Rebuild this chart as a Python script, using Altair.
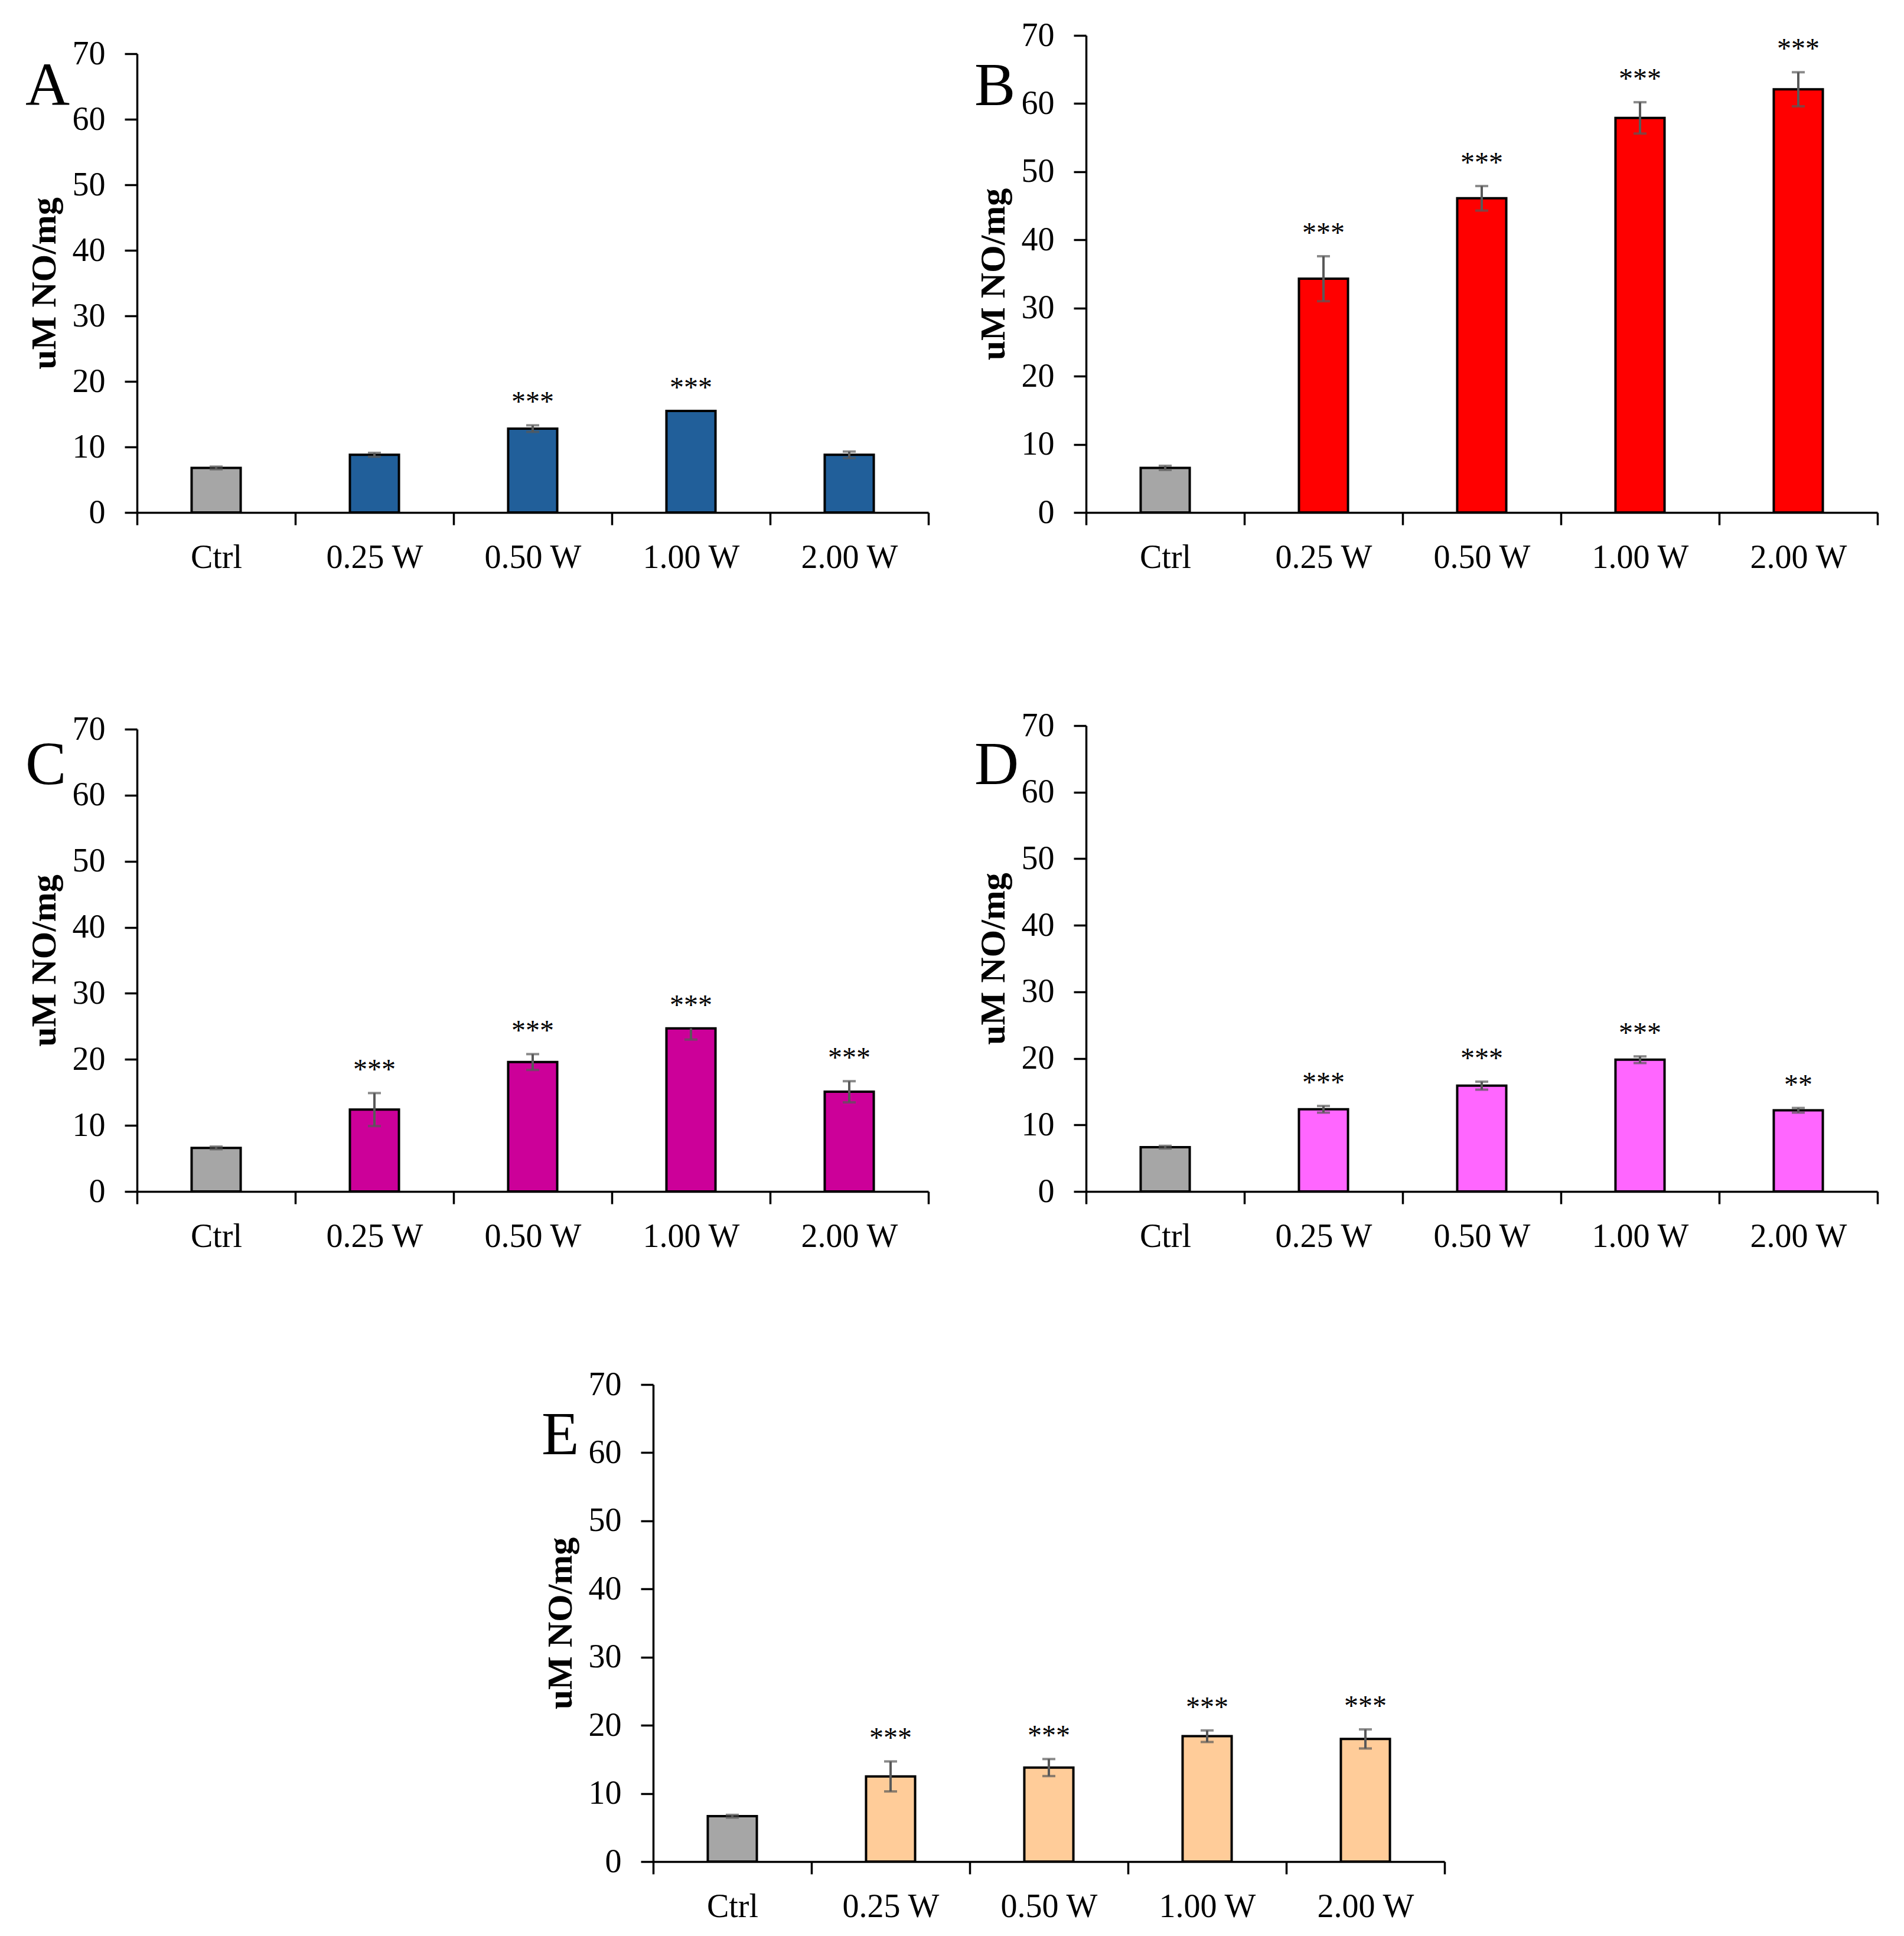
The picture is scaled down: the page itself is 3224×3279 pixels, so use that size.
import altair as alt
import pandas as pd

FONT = "Liberation Serif"
categories = ["Ctrl", "0.25 W", "0.50 W", "1.00 W", "2.00 W"]

# Panel A
a_values = [6.8, 8.8, 12.8, 15.5, 8.8]
a_err_hi = [0.2, 0.3, 0.5, 0.0, 0.5]
a_err_lo = [0.2, 0.3, 0.5, 0.0, 0.5]
a_stars = ["", "", "***", "***", ""]
# Panel B
b_values = [6.55, 34.3, 46.1, 57.9, 62.1]
b_err_hi = [0.3, 3.3, 1.8, 2.3, 2.5]
b_err_lo = [0.3, 3.3, 1.8, 2.3, 2.5]
b_stars = ["", "***", "***", "***", "***"]
# Panel C
c_values = [6.6, 12.4, 19.6, 24.7, 15.1]
c_err_hi = [0.2, 2.5, 1.2, 0.0, 1.6]
c_err_lo = [0.2, 2.5, 1.2, 1.7, 1.6]
c_stars = ["", "***", "***", "***", "***"]
# Panel D
d_values = [6.66, 12.35, 15.9, 19.8, 12.2]
d_err_hi = [0.2, 0.5, 0.6, 0.5, 0.35]
d_err_lo = [0.2, 0.5, 0.6, 0.5, 0.35]
d_stars = ["", "***", "***", "***", "**"]
# Panel E
e_values = [6.66, 12.5, 13.8, 18.4, 18.0]
e_err_hi = [0.2, 2.2, 1.25, 0.85, 1.4]
e_err_lo = [0.2, 2.2, 1.25, 0.85, 1.4]
e_stars = ["", "***", "***", "***", "***"]

y_ticks = [0, 10, 20, 30, 40, 50, 60, 70]
CTRL_COLOR = "#A6A6A6"
ERR_COLOR = "#595959"
W = 1340


def panel(letter, values, ehi, elo, stars, color, H, h):
    df = pd.DataFrame({
        "cat": categories,
        "v": values,
        "hi": [v + e for v, e in zip(values, ehi)],
        "lo": [v - e for v, e in zip(values, elo)],
        "ehi": ehi,
        "elo": elo,
        "star": stars,
        "fill": [CTRL_COLOR] + [color] * 4,
    })
    x = alt.X("cat:N", sort=categories,
              scale=alt.Scale(paddingInner=0, paddingOuter=0),
              axis=alt.Axis(title=None, tickBand="extent", labelAngle=0,
                            labelFont=FONT, labelFontSize=56, labelColor="black",
                            labelPadding=28, tickSize=21, tickWidth=3.5,
                            tickColor="black", domainColor="black", domainWidth=3.5))
    yscale = alt.Scale(domain=[0, 70], range=[H, H - h], nice=False)
    yaxis = alt.Axis(title="uM NO/mg", values=y_ticks, grid=False,
                     labelFont=FONT, labelFontSize=56, labelColor="black",
                     labelPadding=33, tickSize=21, tickWidth=3.5, tickColor="black",
                     domainColor="black", domainWidth=3.5,
                     titleFont=FONT, titleFontSize=60, titleFontWeight="bold",
                     titleColor="black", titlePadding=16)
    base = alt.Chart(df)
    bars = base.mark_bar(width=alt.RelativeBandSize(0.31), stroke="black",
                         strokeWidth=4).encode(
        x=x, y=alt.Y("v:Q", scale=yscale, axis=yaxis),
        color=alt.Color("fill:N", scale=None))
    rules = base.transform_filter("datum.ehi + datum.elo > 0").mark_rule(
        color=ERR_COLOR, strokeWidth=4).encode(
        x=alt.X("cat:N", sort=categories), y=alt.Y("lo:Q"), y2="hi:Q")
    cap_hi = base.transform_filter("datum.ehi > 0").mark_tick(
        color=ERR_COLOR, size=22, thickness=4).encode(
        x=alt.X("cat:N", sort=categories), y=alt.Y("hi:Q"))
    cap_lo = base.transform_filter("datum.elo > 0").mark_tick(
        color=ERR_COLOR, size=22, thickness=4).encode(
        x=alt.X("cat:N", sort=categories), y=alt.Y("lo:Q"))
    star_txt = base.transform_filter("datum.star != ''").mark_text(
        baseline="alphabetic", dy=-24, font=FONT, fontSize=48, color="black").encode(
        x=alt.X("cat:N", sort=categories), y=alt.Y("hi:Q"), text="star:N")
    lab = alt.Chart(pd.DataFrame({"t": [letter]})).mark_text(
        align="left", baseline="alphabetic", font=FONT, fontSize=104,
        color="black").encode(text="t:N", x=alt.value(-189), y=alt.value(H - 690))
    return alt.layer(bars, rules, cap_hi, cap_lo, star_txt, lab).properties(
        width=W, height=H)


pA = panel("A", a_values, a_err_hi, a_err_lo, a_stars, "#215F9A", 808, 777)
pB = panel("B", b_values, b_err_hi, b_err_lo, b_stars, "#FF0000", 808, 808)
pC = panel("C", c_values, c_err_hi, c_err_lo, c_stars, "#CC0099", 789, 783)
pD = panel("D", d_values, d_err_hi, d_err_lo, d_stars, "#FF66FF", 789, 789)
pE = panel("E", e_values, e_err_hi, e_err_lo, e_stars, "#FFCC99", 808, 808)

spacer = alt.Chart(pd.DataFrame({"a": [0]})).mark_point(opacity=0).encode(
    x=alt.value(0), y=alt.value(0)).properties(width=665, height=10)

row1 = alt.hconcat(pA, pB, spacing=76)
row2 = alt.hconcat(pC, pD, spacing=76)
row3 = alt.hconcat(spacer, pE, spacing=20)

chart = alt.vconcat(alt.vconcat(row1, row2, spacing=229), row3, spacing=195).properties(
    padding={"left": 35, "top": 24, "right": 5, "bottom": 5},
    background="white",
).configure_view(stroke="transparent", strokeWidth=0)

chart.save("out.html", embed_options={"renderer": "svg", "actions": False})
